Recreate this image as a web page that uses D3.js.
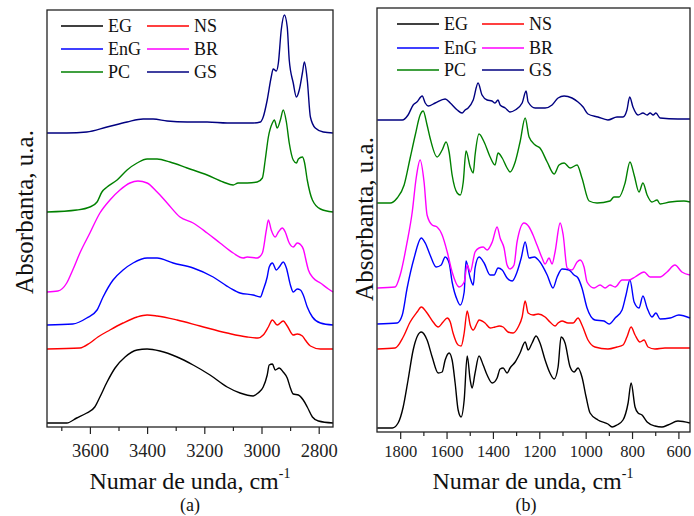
<!DOCTYPE html>
<html lang="ro">
<head>
<meta charset="UTF-8">
<title>FTIR (a) / (b)</title>
<script src="https://cdn.jsdelivr.net/npm/d3@7/dist/d3.min.js"></script>
<style>
  body { margin: 0; background: #fff; }
  svg { display: block; }
</style>
</head>
<body>
<svg id="chart" width="694" height="516"></svg>
<script>
// ---- (a) 3750-2750 cm-1, [wavenumber, absorbance u.a. (offset included)]
const aEG = [[3750,4],[3681,4],[3646,9],[3611,14],[3583,20],[3565,30],[3540,45],[3512,59],[3477,70],[3435,77],[3400,78],[3355,76],[3295,70],[3239,62],[3180,52],[3120,40],[3075,34],[3029,31],[3012,34],[2994,40],[2980,52],[2973,62],[2962,63],[2952,57],[2938,59],[2924,55],[2910,49],[2899,39],[2889,33],[2871,32],[2854,27],[2840,20],[2822,10],[2801,6],[2750,4]];
const aNS = [[3750,78],[3635,79],[3600,84],[3572,90],[3530,97],[3484,104],[3435,110],[3400,112],[3365,111],[3295,107],[3215,101],[3120,94],[3050,90],[3012,89],[2994,92],[2976,100],[2962,107],[2945,102],[2924,106],[2910,101],[2889,92],[2875,93],[2857,91],[2847,87],[2829,81],[2794,78],[2750,78]];
const aEnG = [[3750,102],[3660,103],[3611,109],[3575,117],[3554,130],[3519,147],[3484,157],[3449,164],[3400,169],[3365,169],[3309,164],[3239,159],[3169,150],[3110,139],[3075,134],[3029,132],[3004,130],[2994,137],[2980,150],[2973,160],[2962,164],[2948,157],[2938,160],[2924,165],[2913,159],[2899,142],[2889,135],[2875,138],[2864,137],[2854,132],[2840,120],[2822,110],[2794,104],[2750,102]];
const aBR = [[3750,135],[3712,136],[3681,144],[3660,157],[3635,174],[3600,194],[3565,214],[3530,227],[3495,237],[3460,244],[3432,246],[3400,244],[3365,235],[3330,224],[3285,210],[3239,204],[3190,194],[3145,184],[3099,174],[3064,169],[3050,170],[3015,169],[2997,174],[2983,197],[2976,207],[2966,197],[2952,190],[2941,195],[2927,199],[2917,195],[2903,184],[2889,180],[2875,184],[2857,180],[2850,174],[2847,170],[2836,157],[2819,149],[2794,144],[2766,138],[2750,135]];
const aPC = [[3750,215],[3646,217],[3600,220],[3575,225],[3558,235],[3540,240],[3505,247],[3470,257],[3435,264],[3400,268],[3365,268],[3320,265],[3260,259],[3190,252],[3134,245],[3099,242],[3082,244],[3050,244],[3015,245],[2997,249],[2987,267],[2976,290],[2962,304],[2955,307],[2945,299],[2934,307],[2924,317],[2913,305],[2903,284],[2889,267],[2878,264],[2871,268],[2857,270],[2850,265],[2840,247],[2822,227],[2794,218],[2750,215]];
const aGS = [[3750,294],[3681,294],[3611,295],[3540,300],[3470,305],[3414,308],[3379,308],[3330,306],[3260,305],[3190,305],[3120,304],[3075,304],[3029,304],[3004,305],[2994,310],[2980,327],[2966,350],[2959,358],[2948,356],[2941,364],[2931,397],[2920,412],[2910,400],[2903,367],[2889,344],[2878,330],[2868,337],[2857,354],[2850,365],[2840,347],[2829,310],[2812,299],[2784,295],[2750,294]];

// ---- (b) 1900-550 cm-1
const bEG = [[1899,4],[1834,4],[1809,9],[1787,25],[1766,52],[1744,82],[1709,100],[1684,92],[1662,75],[1636,59],[1619,60],[1606,72],[1589,79],[1576,72],[1563,49],[1550,22],[1537,15],[1524,32],[1511,76],[1498,52],[1490,44],[1477,59],[1460,76],[1442,67],[1425,57],[1403,49],[1382,54],[1369,63],[1356,64],[1339,59],[1326,64],[1304,70],[1283,79],[1261,90],[1248,82],[1231,89],[1214,96],[1197,89],[1175,72],[1154,59],[1136,53],[1119,65],[1106,95],[1089,89],[1067,65],[1050,60],[1033,64],[1016,55],[998,35],[981,19],[947,12],[904,8],[886,5],[865,7],[839,12],[817,29],[804,49],[787,25],[774,19],[757,17],[735,10],[701,6],[671,5],[645,7],[602,11],[550,9]];
const bNS = [[1899,83],[1822,84],[1787,95],[1757,110],[1727,120],[1709,125],[1684,119],[1658,110],[1636,105],[1615,110],[1597,114],[1584,110],[1572,99],[1550,87],[1537,86],[1524,99],[1511,121],[1498,107],[1485,102],[1468,109],[1460,112],[1434,109],[1412,104],[1391,105],[1373,106],[1356,105],[1335,100],[1313,99],[1291,105],[1274,115],[1261,131],[1248,119],[1227,117],[1205,118],[1175,115],[1154,110],[1132,106],[1119,109],[1102,111],[1076,109],[1054,109],[1033,114],[1016,107],[990,92],[960,85],[904,83],[865,85],[839,87],[822,95],[804,105],[787,97],[766,90],[748,92],[731,85],[701,83],[658,84],[602,84],[550,84]];
const bEnG = [[1899,108],[1813,109],[1791,117],[1770,144],[1740,174],[1709,194],[1692,189],[1671,177],[1645,165],[1623,167],[1606,175],[1589,169],[1576,150],[1554,132],[1541,127],[1524,140],[1516,171],[1498,154],[1485,147],[1477,164],[1460,175],[1438,169],[1412,157],[1395,157],[1378,164],[1360,162],[1339,154],[1317,151],[1296,160],[1278,174],[1261,190],[1244,174],[1222,175],[1197,170],[1166,157],[1141,144],[1123,155],[1102,163],[1072,162],[1050,157],[1033,154],[1016,144],[994,124],[960,112],[921,111],[899,108],[873,114],[843,122],[826,137],[809,152],[791,130],[770,124],[753,136],[735,124],[714,115],[697,119],[679,113],[636,114],[598,117],[550,114]];
const bBR = [[1899,144],[1822,145],[1800,157],[1770,190],[1748,220],[1731,254],[1714,272],[1697,250],[1684,217],[1662,207],[1641,205],[1619,197],[1597,180],[1576,160],[1546,145],[1524,150],[1511,167],[1498,160],[1477,180],[1460,184],[1442,185],[1425,182],[1403,190],[1382,205],[1369,194],[1352,184],[1339,167],[1326,163],[1309,167],[1296,190],[1266,209],[1244,205],[1227,197],[1210,187],[1188,174],[1175,168],[1158,174],[1145,168],[1132,180],[1110,209],[1097,197],[1080,164],[1059,162],[1037,170],[1024,172],[1007,165],[994,150],[964,144],[938,147],[916,144],[895,147],[873,145],[843,152],[813,152],[787,155],[748,160],[722,155],[679,155],[649,160],[615,167],[585,160],[550,157]];
const bPC = [[1899,229],[1843,229],[1813,234],[1783,247],[1757,274],[1735,297],[1714,317],[1701,321],[1684,307],[1671,294],[1641,275],[1619,282],[1602,290],[1589,280],[1576,257],[1554,239],[1541,237],[1528,250],[1516,281],[1498,265],[1485,259],[1477,277],[1460,298],[1438,290],[1412,275],[1391,267],[1378,279],[1360,274],[1339,264],[1326,260],[1304,270],[1283,290],[1261,314],[1244,295],[1218,287],[1197,284],[1166,270],[1136,258],[1115,267],[1093,269],[1067,264],[1037,267],[1016,254],[985,231],[951,229],[895,231],[878,235],[856,235],[830,249],[809,270],[791,257],[770,240],[753,249],[735,237],[714,230],[692,232],[679,228],[636,230],[576,231],[550,230]];
const bGS = [[1899,312],[1791,312],[1766,317],[1744,327],[1728,330],[1705,336],[1692,329],[1679,326],[1649,329],[1606,333],[1584,329],[1554,322],[1533,319],[1520,322],[1507,324],[1485,332],[1464,349],[1447,337],[1425,332],[1404,331],[1391,329],[1378,332],[1369,327],[1347,324],[1326,320],[1304,322],[1274,329],[1257,341],[1248,330],[1218,324],[1175,324],[1145,327],[1119,334],[1093,336],[1059,334],[1033,330],[1011,325],[990,318],[947,315],[904,312],[865,315],[839,315],[822,322],[810,335],[796,325],[774,317],[753,319],[735,317],[722,319],[709,317],[697,319],[679,314],[602,313],[550,313]];

const ticksA = [3600, 3400, 3200, 3000, 2800];
const minorA = [3700, 3500, 3300, 3100, 2900];
const ticksB = [1800, 1600, 1400, 1200, 1000, 800, 600];
const minorB = [1700, 1500, 1300, 1100, 900, 700];

const legendRows = [['EG', 'NS'], ['EnG', 'BR'], ['PC', 'GS']];
const colors = { EG: '#000000', NS: '#ff0000', EnG: '#0000ff', BR: '#ff00ff', PC: '#008000', GS: '#000080' };
const serif = '"Liberation Serif", "Times New Roman", serif';

const svg = d3.select('#chart').attr('font-family', serif);

function drawPanel(p) {
  const x = d3.scaleLinear().domain(p.xDomain).range([p.left, p.right]);
  const y = d3.scaleLinear().domain(p.yDomain).range([p.bottom, p.top]);
  const g = svg.append('g');

  const line = d3.line()
    .x(d => x(d[0]))
    .y(d => y(d[1]))
    .curve(d3.curveMonotoneX);

  Object.entries(p.series).forEach(([name, data]) => {
    g.append('path')
      .datum(data)
      .attr('fill', 'none')
      .attr('stroke', colors[name])
      .attr('stroke-width', 1.4)
      .attr('stroke-linejoin', 'round')
      .attr('d', line);
  });

  // cadru
  g.append('rect')
    .attr('x', p.left).attr('y', p.top)
    .attr('width', p.right - p.left).attr('height', p.bottom - p.top)
    .attr('fill', 'none').attr('stroke', '#222').attr('stroke-width', 1.3);

  // axa x
  const ax = g.append('g')
    .attr('transform', `translate(0,${p.bottom})`)
    .call(d3.axisBottom(x).tickValues(p.ticks).tickSize(7).tickSizeOuter(0).tickFormat(d3.format('d')));
  ax.attr('font-family', serif).attr('font-size', p.tickFont);
  ax.select('.domain').remove();
  ax.selectAll('.tick line').attr('stroke', '#222').attr('stroke-width', 1.2);
  ax.selectAll('text').attr('y', p.labelY).attr('dy', null).attr('fill', '#222');

  const mx = g.append('g')
    .attr('transform', `translate(0,${p.bottom})`)
    .call(d3.axisBottom(x).tickValues(p.minor).tickSize(4).tickSizeOuter(0).tickFormat(''));
  mx.select('.domain').remove();
  mx.selectAll('.tick line').attr('stroke', '#222').attr('stroke-width', 1.2);

  // legenda
  legendRows.forEach((row, i) => {
    row.forEach((name, j) => {
      const lx = p.left + p.legend.cols[j];
      const ly = p.top + p.legend.rows[i];
      g.append('line')
        .attr('x1', lx).attr('x2', lx + p.legend.len)
        .attr('y1', ly).attr('y2', ly)
        .attr('stroke', colors[name]).attr('stroke-width', 1.4);
      g.append('text')
        .attr('x', lx + p.legend.len + 5).attr('y', ly + 6)
        .attr('font-size', 18).attr('fill', '#111')
        .text(name);
    });
  });

  // titluri
  g.append('text')
    .attr('transform', `translate(${p.yTitleX},${p.yTitleY}) rotate(-90)`)
    .attr('text-anchor', 'middle')
    .attr('font-size', 25).attr('fill', '#111')
    .text('Absorbanta, u.a.');

  const xt = g.append('text')
    .attr('x', p.xTitleX).attr('y', 489)
    .attr('text-anchor', 'middle')
    .attr('font-size', 24).attr('fill', '#111');
  xt.append('tspan').text('Numar de unda, cm');
  xt.append('tspan').attr('dy', -11).attr('font-size', 14).text('-1');

  g.append('text')
    .attr('x', p.capX).attr('y', 511)
    .attr('text-anchor', 'middle')
    .attr('font-size', 18).attr('fill', '#111')
    .text(p.caption);
}

drawPanel({
  left: 47, right: 333, top: 10, bottom: 427,
  xDomain: [3750, 2750], yDomain: [0, 417],
  ticks: ticksA, minor: minorA, tickFont: 18.5, labelY: 30,
  series: { EG: aEG, NS: aNS, EnG: aEnG, BR: aBR, PC: aPC, GS: aGS },
  legend: { cols: [14, 100], rows: [16, 39, 62], len: 42 },
  yTitleX: 33, yTitleY: 212, xTitleX: 190, capX: 190, caption: '(a)'
});

drawPanel({
  left: 377, right: 690, top: 8, bottom: 432,
  xDomain: [1900, 550], yDomain: [0, 424],
  ticks: ticksB, minor: minorB, tickFont: 16.5, labelY: 25,
  series: { EG: bEG, NS: bNS, EnG: bEnG, BR: bBR, PC: bPC, GS: bGS },
  legend: { cols: [20, 105], rows: [16, 40, 62], len: 42 },
  yTitleX: 373, yTitleY: 219, xTitleX: 533, capX: 526, caption: '(b)'
});
</script>
</body>
</html>
